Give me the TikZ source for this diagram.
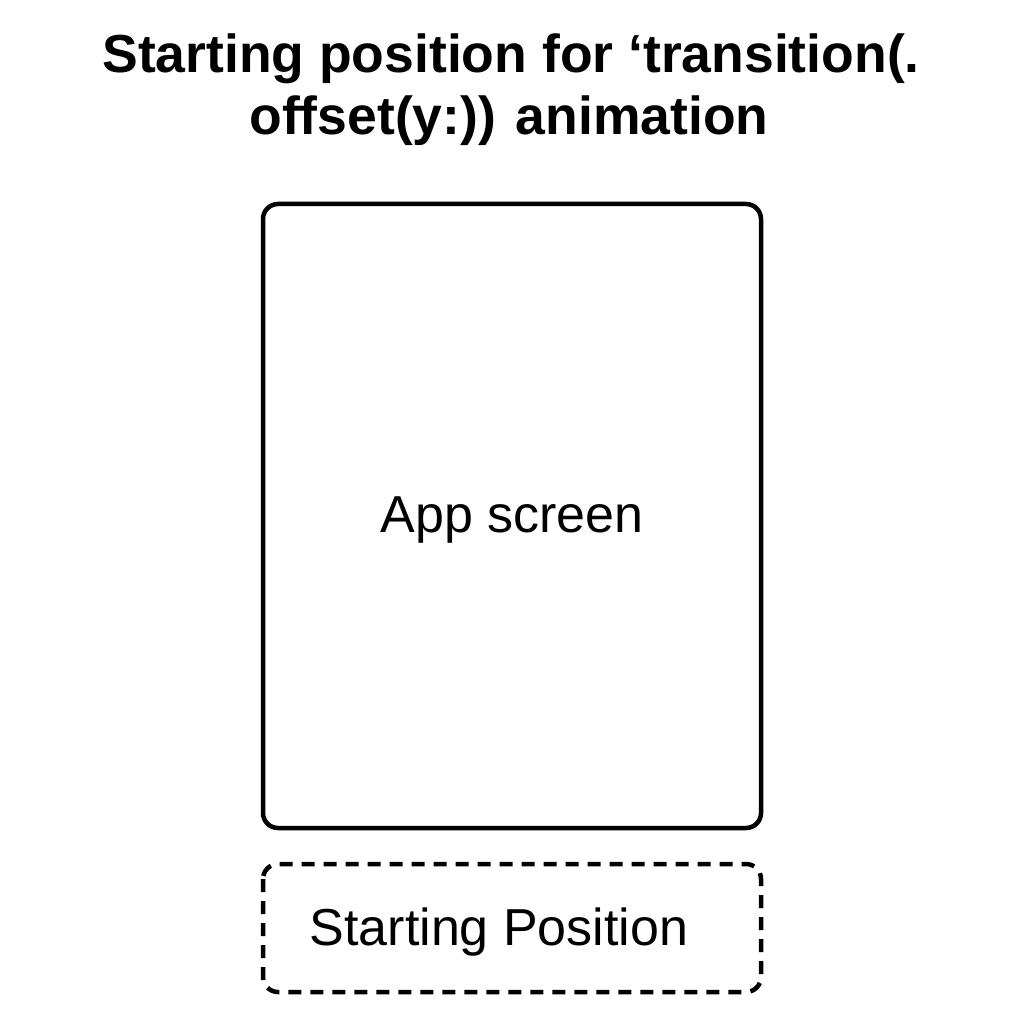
\documentclass[tikz,border=0pt]{standalone}
\usepackage{fontspec}
\setmainfont{Liberation Sans}
\begin{document}
\begin{tikzpicture}[x=1pt,y=-1pt,
  screenbox/.style={draw=black,line width=4.5pt,rounded corners=15pt},
  startbox/.style={draw=black,line width=4.5pt,rounded corners=15pt,dash pattern=on 13pt off 9pt},
  lbl/.style={font=\fontsize{52}{60}\selectfont,inner sep=0pt,anchor=base},
  ttl/.style={font=\bfseries\fontsize{53.5}{62}\selectfont,inner sep=0pt,anchor=base}]
\useasboundingbox (0,0) rectangle (1024,1024);
\fill[white] (0,0) rectangle (1024,1024);
\node[ttl] (t1) at (511,73) {Starting position for ‘transition(.};
\node[ttl] (t2) at (509,135) {offset(y:)) animation};
\draw[screenbox] (263,204) rectangle (761,828);
\node[lbl] (app) at (512,532) {App screen};
\draw[startbox] (263,864) rectangle (761,992);
\node[lbl] (sp) at (499,945) {Starting Position};
\end{tikzpicture}
\end{document}
